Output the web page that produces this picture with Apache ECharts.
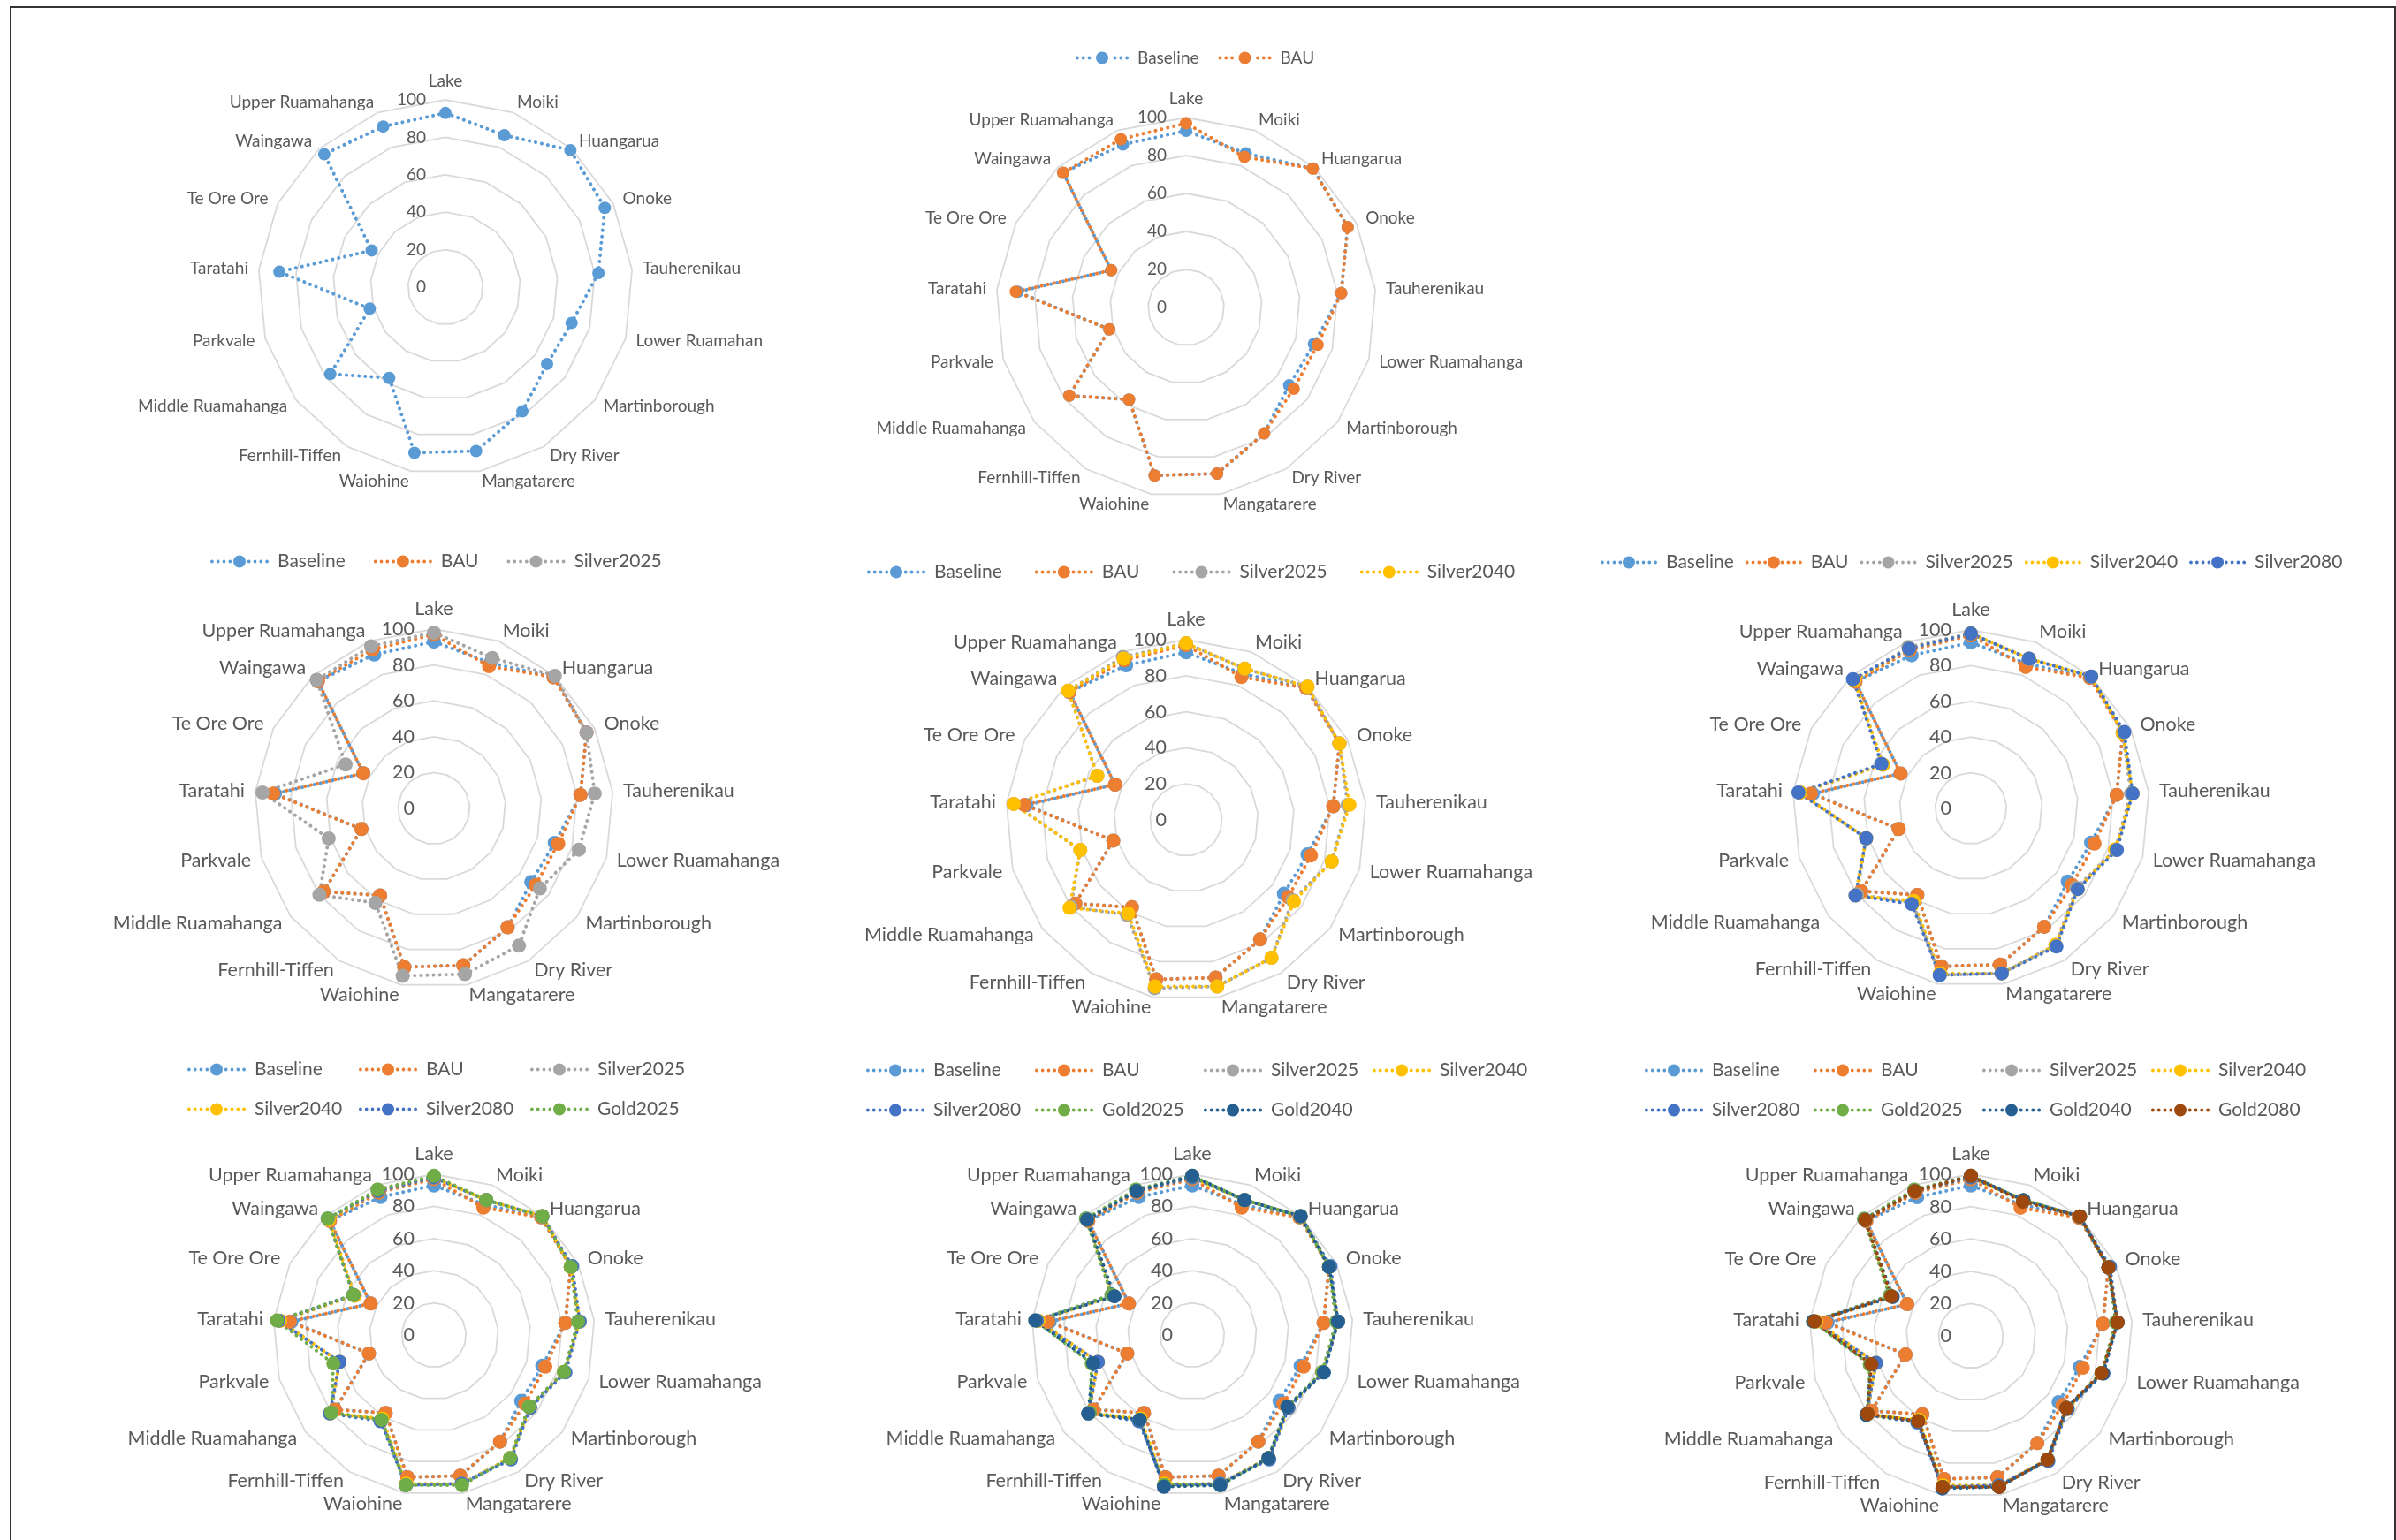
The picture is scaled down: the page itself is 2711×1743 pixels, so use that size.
<!DOCTYPE html>
<html>
<head>
<meta charset="utf-8">
<script src="https://cdn.jsdelivr.net/npm/echarts@6/dist/echarts.min.js"></script>
<style>
html,body{margin:0;padding:0;background:#fff;overflow:hidden;width:2711px;height:1743px}
#frame{position:absolute;left:11px;top:7px;width:2700px;height:1800px;box-sizing:border-box;border:2px solid #333;border-bottom:none}
#chart{position:absolute;left:0;top:0;width:2711px;height:1743px}
</style>
</head>
<body>
<div id="frame"></div>
<div id="chart"></div>
<script>
// ---------------- data ----------------
const categories = ['Lake','Moiki','Huangarua','Onoke','Tauherenikau','Lower Ruamahanga','Martinborough','Dry River','Mangatarere','Waiohine','Fernhill-Tiffen','Middle Ruamahanga','Parkvale','Taratahi','Te Ore Ore','Waingawa','Upper Ruamahanga'];
const tickValues = [0, 20, 40, 60, 80, 100];
const seriesNames = ['Baseline','BAU','Silver2025','Silver2040','Silver2080','Gold2025','Gold2040','Gold2080'];

const baseline   = [93, 87, 99, 95, 82, 70, 68, 78, 89, 90, 57, 77, 42, 89, 44, 96, 92];
const bau        = [97, 85, 99, 95, 82, 72, 71, 78, 89, 90, 57, 77, 42, 90, 44, 96, 95];
const silver2025 = [98, 90, 100, 95, 90, 84, 74, 90, 94, 95, 62, 80, 61, 96, 55, 97, 97];
const silver2040 = [98, 90, 100, 95, 91, 84, 75, 90, 94, 94, 61, 81, 61, 96, 55, 97, 96];
const silver2080 = [98, 90, 100, 96, 91, 85, 75, 91, 94, 95, 63, 81, 61, 97, 56, 98, 96];
const gold2025   = [99, 90, 100, 95, 90, 84, 74, 90, 95, 95, 62, 80, 65, 98, 56, 98, 97];
const gold2040   = [99, 90, 100, 95, 91, 85, 74, 90, 95, 96, 62, 81, 64, 98, 54, 97, 96];
const gold2080   = [99, 89, 100, 95, 91, 84, 74, 90, 95, 95, 62, 80, 64, 97, 55, 97, 96];

const seriesValues = [baseline, bau, silver2025, silver2040, silver2080, gold2025, gold2040, gold2080];

// ---------------- style / layout ----------------
const colors = ['#5B9BD5','#ED7D31','#A5A5A5','#FFC000','#4472C4','#70AD47','#255E91','#9E480E'];
const textColor = '#595959';
const fontFamily = 'Lato';

const panels = [
  {count:1, center:[504,325],  radius:212, font:19, sym:14, legend:[]},
  {count:2, center:[1342,348], radius:215, font:19, sym:14, legend:[
    {left:1212, y:65, items:[0,1], font:19, icon:60, gap:22}]},
  {count:3, center:[491,915],  radius:203, font:21.5, sym:16, legend:[
    {left:233, y:634, items:[0,1,2], font:21, icon:66, gap:32}]},
  {count:4, center:[1342,928], radius:204, font:21.5, sym:16, legend:[
    {left:976, y:646, items:[0,1,2,3], font:21, icon:66, gap:37}]},
  {count:5, center:[2230,915], radius:202, font:21.5, sym:16, legend:[
    {left:1806, y:635, items:[0,1,2,3,4], font:21, icon:64, gap:13}]},
  {count:6, center:[491,1511], radius:182, font:21.5, sym:16, legend:[
    {left:207, y:1209, items:[0,1,2], font:21, icon:66, colW:194},
    {left:207, y:1254, items:[3,4,5], font:21, icon:66, colW:194}]},
  {count:7, center:[1349,1511], radius:182, font:21.5, sym:16, legend:[
    {left:975, y:1210, items:[0,1,2,3], font:21, icon:66, colW:191},
    {left:975, y:1255, items:[4,5,6], font:21, icon:66, colW:191}]},
  {count:8, center:[2230,1512], radius:183, font:21.5, sym:16, legend:[
    {left:1856, y:1210, items:[0,1,2,3], font:21, icon:66, colW:191},
    {left:1856, y:1255, items:[4,5,6,7], font:21, icon:66, colW:191}]}
];

// ECharts lays radar indicators counter-clockwise; Excel goes clockwise.
const order = [0];
for (let i = categories.length - 1; i >= 1; i--) order.push(i);

function dot(cx, cy, r) {
  return 'M' + (cx - r) + ',' + cy + 'a' + r + ',' + r + ' 0 1,0 ' + (2*r) + ',0a' + r + ',' + r + ' 0 1,0 ' + (-2*r) + ',0z';
}
function legendIcon(w) {
  const r = 1.9, cy = 7;
  let p = '';
  const mid = w / 2;
  const xs = [r, r + 6.8, r + 13.6, r + 20.4, w - r - 20.4, w - r - 13.6, w - r - 6.8, w - r];
  xs.forEach(x => { if (Math.abs(x - mid) > 9.5) p += dot(x, cy, r); });
  p += dot(mid, cy, 7);
  return 'path://' + p;
}

const radars = [];
const series = [];
const legends = [];

function makeLegend(names, left, y, lg) {
  return {
    left: left,
    top: y - 14,
    orient: 'horizontal',
    selectedMode: false,
    icon: legendIcon(lg.icon),
    itemWidth: lg.icon,
    itemHeight: 14,
    itemGap: lg.gap || 0,
    textStyle: {color: textColor, fontSize: lg.font, fontFamily: fontFamily, padding: [0, 0, 0, 5]},
    data: names.map(i => ({name: seriesNames[i], itemStyle: {color: colors[i], borderWidth: 0}}))
  };
}

panels.forEach((pn, p) => {
  radars.push({
    center: pn.center,
    radius: pn.radius,
    startAngle: 90,
    shape: 'polygon',
    splitNumber: tickValues.length - 1,
    nameGap: 12,
    axisName: {
      color: textColor, fontSize: pn.font, fontFamily: fontFamily,
      formatter: p === 0 ? (v => v === 'Lower Ruamahanga' ? 'Lower Ruamahan' : v) : undefined
    },
    axisLine: {show: false},
    axisTick: {show: false},
    axisLabel: {show: false},
    splitLine: {show: true, lineStyle: {color: '#D9D9D9', width: 1.8}},
    splitArea: {show: false},
    indicator: order.map((ci, k) => ({
      name: categories[ci],
      min: tickValues[0],
      max: tickValues[tickValues.length - 1],
      axisLabel: k === 0
        ? {show: true, color: textColor, fontSize: pn.font, fontFamily: fontFamily, margin: 22}
        : {show: false}
    }))
  });
  for (let s = 0; s < pn.count; s++) {
    series.push({
      type: 'radar',
      radarIndex: p,
      name: seriesNames[s],
      silent: true,
      symbol: 'circle',
      symbolSize: pn.sym,
      color: colors[s],
      itemStyle: {color: colors[s]},
      lineStyle: {color: colors[s], width: 4, type: [0.1, 7], cap: 'round'},
      areaStyle: null,
      data: [{name: seriesNames[s], value: order.map(ci => seriesValues[s][ci])}]
    });
  }
  pn.legend.forEach(lg => {
    if (lg.colW) {
      // grid-style legend: one fixed-width column per entry
      lg.items.forEach((it, k) => legends.push(makeLegend([it], lg.left + k * lg.colW, lg.y, lg)));
    } else {
      legends.push(makeLegend(lg.items, lg.left, lg.y, lg));
    }
  });
});

const chart = echarts.init(document.getElementById('chart'), null, {renderer: 'canvas'});
chart.setOption({
  animation: false,
  backgroundColor: 'transparent',
  radar: radars,
  legend: legends,
  series: series
});
</script>
</body>
</html>
